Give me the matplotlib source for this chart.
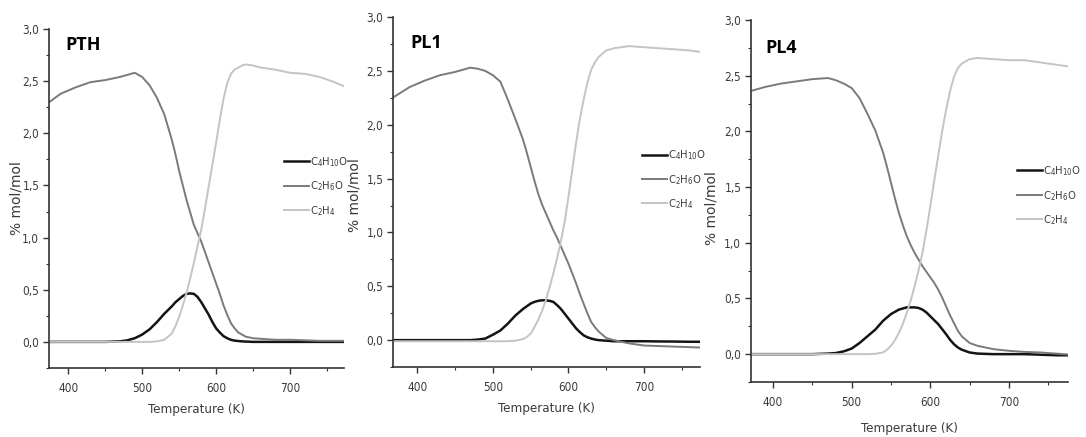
import matplotlib
matplotlib.use("Agg")
import matplotlib.pyplot as plt
from matplotlib import font_manager
from matplotlib.ticker import MultipleLocator, FuncFormatter

# temperature grid (K), shared by all three samples
T = [365, 390, 410, 430, 450, 470, 480, 490, 500, 510, 520, 530, 540,
     545, 550, 555, 560, 565, 570, 575, 580, 585, 590, 595, 600, 605, 610, 615, 620, 625, 630, 635,
     640, 650, 660, 680, 700, 720, 740, 760, 780]

samples = ["PTH", "PL1", "PL4"]
labels = [r"C$_4$H$_{10}$O", r"C$_2$H$_6$O", r"C$_2$H$_4$"]
colors = ["#141414", "#7a7a7a", "#c4c4c4"]
widths = [1.8, 1.4, 1.4]

# PTH
pth_c4h10o = [0, 0, 0, 0, 0, 0.005, 0.015, 0.035, 0.07, 0.12, 0.19, 0.27, 0.34,
              0.38, 0.41, 0.44, 0.46, 0.465, 0.46, 0.43, 0.38, 0.32, 0.26, 0.19, 0.13, 0.09, 0.055, 0.035, 0.02, 0.012, 0.008, 0.005,
              0.003, 0, 0, 0, 0, 0, 0, 0, 0]
pth_c2h6o = [2.25, 2.38, 2.44, 2.49, 2.51, 2.54, 2.56, 2.58, 2.54, 2.46, 2.34, 2.18, 1.94,
             1.80, 1.64, 1.50, 1.36, 1.24, 1.12, 1.04, 0.96, 0.86, 0.76, 0.66, 0.56, 0.46, 0.35, 0.26, 0.18, 0.13, 0.09, 0.07,
             0.05, 0.035, 0.03, 0.02, 0.02, 0.015, 0.01, 0.01, 0.01]
pth_c2h4 = [0, 0, 0, 0, 0, 0, 0, 0, 0, 0, 0.005, 0.02, 0.08,
            0.15, 0.24, 0.35, 0.47, 0.61, 0.76, 0.92, 1.08, 1.28, 1.49, 1.70, 1.91, 2.13, 2.33, 2.48, 2.57, 2.61, 2.63, 2.65,
            2.66, 2.65, 2.63, 2.61, 2.58, 2.57, 2.54, 2.49, 2.43]

# PL1
pl1_c4h10o = [0, 0, 0, 0, 0, 0, 0.005, 0.015, 0.05, 0.09, 0.155, 0.23, 0.29,
              0.315, 0.34, 0.355, 0.365, 0.37, 0.37, 0.365, 0.355, 0.325, 0.29, 0.245, 0.20, 0.155, 0.11, 0.075, 0.045, 0.027, 0.015, 0.006,
              0.0, -0.005, -0.01, -0.01, -0.01, -0.012, -0.013, -0.015, -0.015]
pl1_c2h6o = [2.24, 2.35, 2.41, 2.46, 2.49, 2.53, 2.52, 2.50, 2.46, 2.40, 2.23, 2.05, 1.86,
             1.74, 1.61, 1.48, 1.36, 1.26, 1.18, 1.10, 1.02, 0.95, 0.87, 0.79, 0.71, 0.62, 0.53, 0.43, 0.34, 0.25, 0.17, 0.12,
             0.08, 0.02, 0.0, -0.03, -0.05, -0.055, -0.06, -0.065, -0.07]
pl1_c2h4 = [-0.01, -0.01, -0.01, -0.01, -0.01, -0.01, -0.01, -0.01, -0.01, -0.01, -0.01, -0.005, 0.01,
            0.03, 0.06, 0.12, 0.19, 0.27, 0.37, 0.49, 0.62, 0.76, 0.92, 1.10, 1.33, 1.58, 1.83, 2.05, 2.23, 2.39, 2.51, 2.58,
            2.63, 2.69, 2.71, 2.73, 2.72, 2.71, 2.70, 2.69, 2.67]

# PL4
pl4_c4h10o = [0, 0, 0, 0, 0, 0.005, 0.01, 0.025, 0.05, 0.10, 0.16, 0.22, 0.30,
              0.33, 0.36, 0.38, 0.40, 0.41, 0.42, 0.42, 0.42, 0.415, 0.40, 0.375, 0.34, 0.305, 0.27, 0.225, 0.18, 0.13, 0.09, 0.06,
              0.04, 0.015, 0.005, 0, 0, 0, -0.005, -0.01, -0.01]
pl4_c2h6o = [2.35, 2.40, 2.43, 2.45, 2.47, 2.48, 2.46, 2.43, 2.39, 2.30, 2.16, 2.01, 1.81,
             1.68, 1.54, 1.40, 1.27, 1.16, 1.06, 0.98, 0.91, 0.85, 0.79, 0.74, 0.69, 0.64, 0.58, 0.51, 0.43, 0.35, 0.28, 0.21,
             0.16, 0.10, 0.075, 0.045, 0.03, 0.02, 0.015, 0.005, -0.005]
pl4_c2h4 = [0, 0, 0, 0, 0, 0, 0, 0, 0, 0, 0, 0.003, 0.015,
            0.04, 0.075, 0.125, 0.19, 0.27, 0.37, 0.48, 0.61, 0.75, 0.91, 1.11, 1.33, 1.56, 1.78, 2.00, 2.19, 2.36, 2.49, 2.57,
            2.61, 2.65, 2.66, 2.65, 2.64, 2.64, 2.62, 2.60, 2.58]

data = {
    "PTH": [pth_c4h10o, pth_c2h6o, pth_c2h4],
    "PL1": [pl1_c4h10o, pl1_c2h6o, pl1_c2h4],
    "PL4": [pl4_c4h10o, pl4_c2h6o, pl4_c2h4],
}

# a narrow face looks closest to the original; use condensed DejaVu if it is there
have_cond = any(f.name == "DejaVu Sans" and f.stretch == "condensed"
                for f in font_manager.fontManager.ttflist)
if have_cond:
    plt.rcParams["font.family"] = ["DejaVu Sans"]
    plt.rcParams["font.stretch"] = "condensed"
    narrow = "DejaVu Sans"
else:
    plt.rcParams["font.family"] = ["Liberation Sans", "DejaVu Sans"]
    narrow = "Liberation Sans"
fs_tick, fs_leg, fs_xlab = 8.5, 8.0, 9.5
plt.rcParams["mathtext.fontset"] = "custom"
plt.rcParams["mathtext.rm"] = narrow
plt.rcParams["mathtext.it"] = narrow

fig = plt.figure(figsize=(10.86, 4.37), dpi=100)

# axes boxes [left, bottom, width, height] in figure fractions
boxes = [[0.0451, 0.158, 0.2717, 0.7757],
         [0.3619, 0.160, 0.2827, 0.8010],
         [0.6915, 0.1259, 0.2919, 0.8280]]
xlims = [(374, 773), (368, 774), (372, 775)]
leg_anchor = [(0.795, 0.535), (0.81, 0.535), (0.84, 0.515)]
title_pos = [(0.054, 0.953), (0.055, 0.926), (0.044, 0.923)]
ylab_x = [-0.085, -0.103, -0.102]
ylab_y = [0.50, 0.49, 0.48]
xlab_y = [-0.103, -0.10, -0.11]

spine_col = "#333333"
text_col = "#3a3a3a"

for i, name in enumerate(samples):
    ax = fig.add_axes(boxes[i])
    for j in range(3):
        ax.plot(T, data[name][j], color=colors[j], lw=widths[j], label=labels[j])
    ax.set_xlim(*xlims[i])
    ax.set_ylim(-0.25, 3.0)
    for s in ["top", "right"]:
        ax.spines[s].set_visible(False)
    for s in ["left", "bottom"]:
        ax.spines[s].set_color(spine_col)
        ax.spines[s].set_linewidth(1.2)
    ax.xaxis.set_major_locator(MultipleLocator(100))
    ax.xaxis.set_minor_locator(MultipleLocator(50))
    ax.yaxis.set_major_locator(MultipleLocator(0.5))
    ax.yaxis.set_minor_locator(MultipleLocator(0.25))
    ax.yaxis.set_major_formatter(FuncFormatter(lambda v, p: ("%.1f" % v).replace(".", ",")))
    ax.tick_params(which="major", direction="out", length=4, width=1, color=spine_col,
                   labelsize=fs_tick, labelcolor=text_col, pad=3)
    ax.tick_params(which="minor", direction="out", length=2.5, width=0.8, color=spine_col)
    ax.tick_params(axis="x", which="major", pad=6)

    ax.set_xlabel("Temperature (K)", fontsize=fs_xlab, color=text_col)
    ax.xaxis.set_label_coords(0.5, xlab_y[i])
    ax.set_ylabel("% mol/mol", fontsize=10, color=text_col, family="DejaVu Sans",
                  fontstretch="normal")
    ax.yaxis.set_label_coords(ylab_x[i], ylab_y[i])

    ax.text(title_pos[i][0], title_pos[i][1], name, transform=ax.transAxes,
            fontsize=13, fontweight="bold", family="Open Sans", fontstretch="normal",
            va="center", ha="left")

    ax.legend(loc="center left", bbox_to_anchor=leg_anchor[i], frameon=False,
              fontsize=fs_leg, handlelength=2.25, handletextpad=0.1, labelspacing=0.95,
              borderpad=0, borderaxespad=0, labelcolor=text_col)

fig.savefig("out.png", dpi=100)
